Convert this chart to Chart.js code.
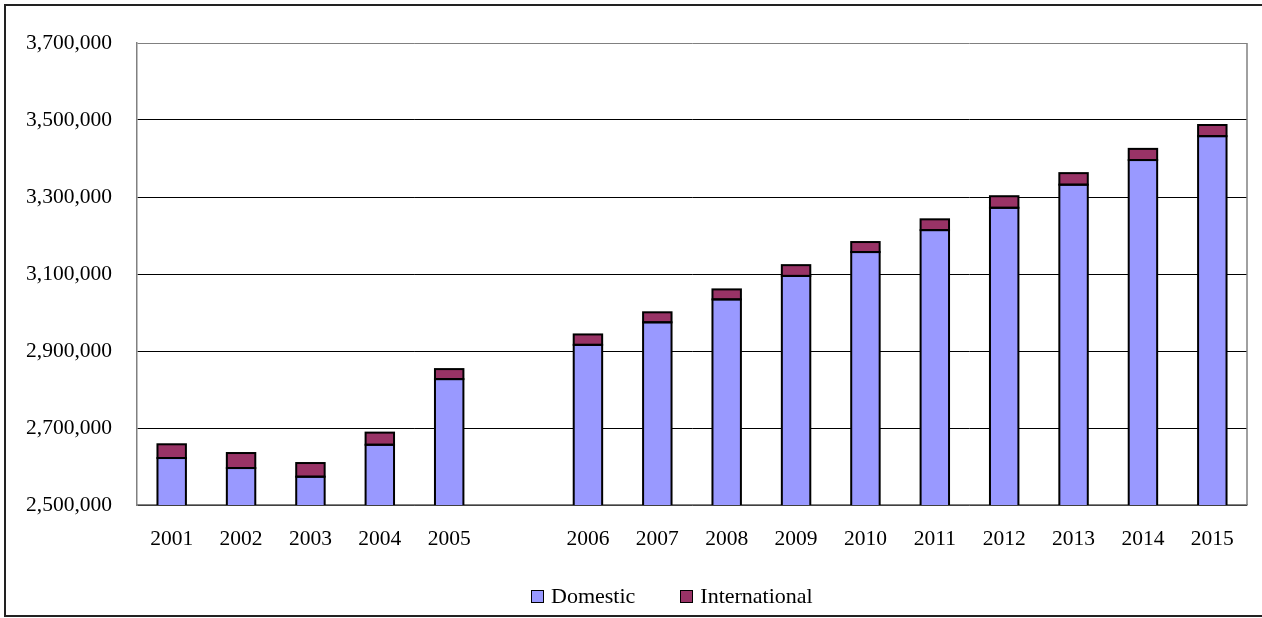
<!DOCTYPE html>
<html>
<head>
<meta charset="utf-8">
<script src="https://cdn.jsdelivr.net/npm/chart.js@4/dist/chart.umd.min.js"></script>
<style>
  html, body { margin: 0; padding: 0; background: #fff; }
  #wrap { position: relative; width: 1262px; height: 618px; overflow: hidden; }
  #legend {
    position: absolute; left: 531px; top: 583px;
    display: flex; align-items: center;
    font: 22px 'Liberation Serif', 'Times New Roman', serif; color: #000;
    line-height: 26px;
  }
  #legend .item { display: flex; align-items: center; margin-right: 45px; }
  #legend .box {
    width: 11px; height: 11px; border: 1.5px solid #000;
    margin-right: 7px; box-sizing: content-box;
  }
</style>
</head>
<body>
<div id="wrap">
  <canvas id="paxChart" width="1262" height="618"></canvas>
  <div id="legend"></div>
</div>
<script>
// years, with an empty slot separating actuals from the forecast run
const years = ['2001', '2002', '2003', '2004', '2005', '',
  '2006', '2007', '2008', '2009', '2010', '2011', '2012', '2013', '2014', '2015'];
const domestic = [2622000, 2596000, 2573500, 2656500, 2827000, null,
  2916000, 2974500, 3034000, 3095000, 3157000, 3214000, 3272000, 3332000, 3396000, 3458000];
const international = [35700, 39000, 35500, 31500, 26000, null,
  27000, 26000, 26000, 28000, 26000, 28000, 30000, 30000, 29000, 29000];
const yTicks = [2500000, 2700000, 2900000, 3100000, 3300000, 3500000, 3700000];

Chart.defaults.font.family = "'Liberation Serif', 'Times New Roman', serif";
Chart.defaults.font.size = 21.5;
Chart.defaults.color = '#000';

// black outline round every bar segment, stroked on the element's own geometry
const barOutline = {
    id: 'barOutline',
    afterDatasetsDraw(chart) {
        const { ctx, chartArea } = chart;
        ctx.save();
        ctx.beginPath();
        ctx.rect(chartArea.left, chartArea.top, chartArea.right - chartArea.left, chartArea.bottom - chartArea.top);
        ctx.clip();
        ctx.strokeStyle = '#000';
        ctx.lineWidth = 2;
        chart.data.datasets.forEach((ds, i) => {
            chart.getDatasetMeta(i).data.forEach((bar, j) => {
                if (ds.data[j] == null) return;
                const { x, y, base, width } = bar.getProps(['x', 'y', 'base', 'width'], true);
                ctx.strokeRect(x - width / 2, y, width, base - y);
            });
        });
        ctx.restore();
    }
};

// outer frame (its right edge runs past the canvas) and the right edge of the plot box
const frame = {
    id: 'frame',
    afterDraw(chart) {
        const { ctx, chartArea } = chart;
        ctx.save();
        ctx.strokeStyle = '#808080';
        ctx.lineWidth = 1.5;
        ctx.beginPath();
        ctx.moveTo(chartArea.right, chartArea.top);
        ctx.lineTo(chartArea.right, chartArea.bottom);
        ctx.stroke();
        ctx.strokeStyle = '#222';
        ctx.lineWidth = 2;
        ctx.strokeRect(5, 5, 1270, 611);
        ctx.restore();
    }
};

const ctx = document.getElementById('paxChart');
const chart = new Chart(ctx, {
    type: 'bar',
    data: {
        labels: years,
        datasets: [{
            label: 'Domestic',
            data: domestic,
            backgroundColor: '#9999ff',
            borderWidth: 0
        }, {
            label: 'International',
            data: international,
            backgroundColor: '#993366',
            borderWidth: 0
        }]
    },
    options: {
        responsive: false,
        animation: false,
        datasets: { bar: { barPercentage: 0.41, categoryPercentage: 1 } },
        layout: { padding: { top: 43, right: 15, left: 0, bottom: 40 } },
        scales: {
            x: {
                stacked: true,
                grid: { display: false },
                border: { display: true, color: '#808080', width: 1.5 },
                ticks: { padding: 13, maxRotation: 0, autoSkip: false },
                afterFit: (scale) => { scale.height = 73; }
            },
            y: {
                stacked: true,
                min: yTicks[0],
                max: yTicks[yTicks.length - 1],
                afterBuildTicks: (scale) => { scale.ticks = yTicks.map(v => ({ value: v })); },
                grid: {
                    drawTicks: false,
                    color: (c) => c.tick && c.tick.value === yTicks[yTicks.length - 1] ? '#808080' : '#000',
                    lineWidth: 1
                },
                border: { display: true, color: '#808080', width: 1.5 },
                ticks: {
                    padding: 25,
                    callback: (v) => Number(v).toLocaleString('en-US')
                },
                afterFit: (scale) => { scale.width = 137; }
            }
        },
        plugins: {
            legend: { display: false },
            tooltip: { enabled: false }
        }
    },
    plugins: [barOutline, frame]
});

// legend built from the datasets
const legendEl = document.getElementById('legend');
chart.data.datasets.forEach(ds => {
    const item = document.createElement('div');
    item.className = 'item';
    const box = document.createElement('span');
    box.className = 'box';
    box.style.background = ds.backgroundColor;
    const label = document.createElement('span');
    label.textContent = ds.label;
    item.appendChild(box);
    item.appendChild(label);
    legendEl.appendChild(item);
});
</script>
</body>
</html>
